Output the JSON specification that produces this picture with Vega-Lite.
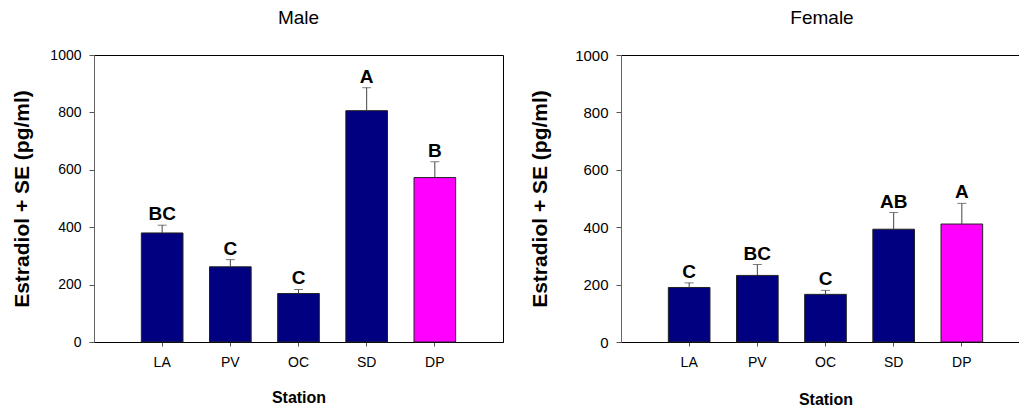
{
  "$schema": "https://vega.github.io/schema/vega-lite/v6.json",
  "padding": {"left": 11, "top": 8, "right": 0, "bottom": 0},
  "background": "white",
  "config": {
    "font": "Liberation Sans",
    "view": {"stroke": "#000", "strokeWidth": 1},
    "title": {"fontSize": 19, "fontWeight": "normal", "color": "#000", "font": "Liberation Sans", "anchor": "middle", "baseline": "alphabetic", "offset": 20},
    "axis": {"labelFont": "Liberation Sans", "titleFont": "Liberation Sans", "labelColor": "#000", "titleColor": "#000", "labelFontSize": 14, "titleFontSize": 16, "titleFontWeight": "bold", "grid": false}
  },
  "datasets": {
    "d": [
      {"sex": "Male", "station": "LA", "mean": 380, "upper": 407, "letter": "BC", "type": "site"},
      {"sex": "Male", "station": "PV", "mean": 262, "upper": 287, "letter": "C", "type": "site"},
      {"sex": "Male", "station": "OC", "mean": 169, "upper": 183, "letter": "C", "type": "site"},
      {"sex": "Male", "station": "SD", "mean": 806, "upper": 886, "letter": "A", "type": "site"},
      {"sex": "Male", "station": "DP", "mean": 573, "upper": 628, "letter": "B", "type": "reference"},
      {"sex": "Female", "station": "LA", "mean": 190, "upper": 206, "letter": "C", "type": "site"},
      {"sex": "Female", "station": "PV", "mean": 232, "upper": 270, "letter": "BC", "type": "site"},
      {"sex": "Female", "station": "OC", "mean": 166, "upper": 180, "letter": "C", "type": "site"},
      {"sex": "Female", "station": "SD", "mean": 393, "upper": 451, "letter": "AB", "type": "site"},
      {"sex": "Female", "station": "DP", "mean": 411, "upper": 483, "letter": "A", "type": "reference"}
    ]
  },
  "spacing": 25,
  "hconcat": [
    {
      "title": "Male",
      "width": 409,
      "height": 287,
      "data": {"name": "d"},
      "transform": [{"filter": "datum.sex === 'Male'"}],
      "encoding": {
        "x": {"field": "station", "type": "nominal", "sort": ["LA", "PV", "OC", "SD", "DP"],
          "scale": {"paddingInner": 0.389, "paddingOuter": 0.6945},
          "axis": {"title": "Station", "labelAngle": 0, "domainColor": "#000", "tickColor": "#555", "tickSize": 4, "labelPadding": 9, "titlePadding": 20, "labelFontSize": 14}}
      },
      "layer": [
        {"mark": {"type": "bar", "stroke": "#222", "strokeWidth": 1},
          "encoding": {
            "y": {"field": "mean", "type": "quantitative", "scale": {"domain": [0, 1000], "nice": false},
              "axis": {"title": "Estradiol + SE (pg/ml)", "titleFontSize": 21, "format": "d", "values": [0, 200, 400, 600, 800, 1000], "domainColor": "#666", "tickColor": "#555", "tickSize": 5, "labelPadding": 8, "titlePadding": 17}},
            "color": {"field": "type", "type": "nominal", "scale": {"domain": ["site", "reference"], "range": ["#000080", "#ff00ff"]}, "legend": null}
          }},
        {"mark": {"type": "rule", "color": "#444", "strokeWidth": 1},
          "encoding": {"y": {"field": "mean", "type": "quantitative"}, "y2": {"field": "upper"}}},
        {"mark": {"type": "tick", "color": "#444", "size": 9, "thickness": 1},
          "encoding": {"y": {"field": "upper", "type": "quantitative"}}},
        {"mark": {"type": "text", "fontSize": 19, "fontWeight": "bold", "baseline": "alphabetic", "dy": -5, "color": "#000"},
          "encoding": {"y": {"field": "upper", "type": "quantitative"}, "text": {"field": "letter"}}}
      ]
    },
    {
      "title": "Female",
      "width": 402,
      "height": 287,
      "data": {"name": "d"},
      "transform": [{"filter": "datum.sex === 'Female'"}],
      "encoding": {
        "x": {"field": "station", "type": "nominal", "sort": ["LA", "PV", "OC", "SD", "DP"],
          "scale": {"paddingInner": 0.389, "paddingOuter": 0.6945, "rangeMax": 409},
          "axis": {"title": "Station", "labelAngle": 0, "domainColor": "#000", "tickColor": "#555", "tickSize": 4, "labelPadding": 9, "titlePadding": 22, "labelFontSize": 14}}
      },
      "layer": [
        {"mark": {"type": "bar", "stroke": "#222", "strokeWidth": 1},
          "encoding": {
            "y": {"field": "mean", "type": "quantitative", "scale": {"domain": [0, 1000], "nice": false},
              "axis": {"title": "Estradiol + SE (pg/ml)", "titleFontSize": 21, "format": "d", "values": [0, 200, 400, 600, 800, 1000], "domainColor": "#666", "tickColor": "#555", "tickSize": 5, "labelPadding": 8, "titlePadding": 24, "labelFontSize": 15}},
            "color": {"field": "type", "type": "nominal", "scale": {"domain": ["site", "reference"], "range": ["#000080", "#ff00ff"]}, "legend": null}
          }},
        {"mark": {"type": "rule", "color": "#444", "strokeWidth": 1},
          "encoding": {"y": {"field": "mean", "type": "quantitative"}, "y2": {"field": "upper"}}},
        {"mark": {"type": "tick", "color": "#444", "size": 9, "thickness": 1},
          "encoding": {"y": {"field": "upper", "type": "quantitative"}}},
        {"mark": {"type": "text", "fontSize": 19, "fontWeight": "bold", "baseline": "alphabetic", "dy": -5, "color": "#000"},
          "encoding": {"y": {"field": "upper", "type": "quantitative"}, "text": {"field": "letter"}}}
      ]
    }
  ]
}
